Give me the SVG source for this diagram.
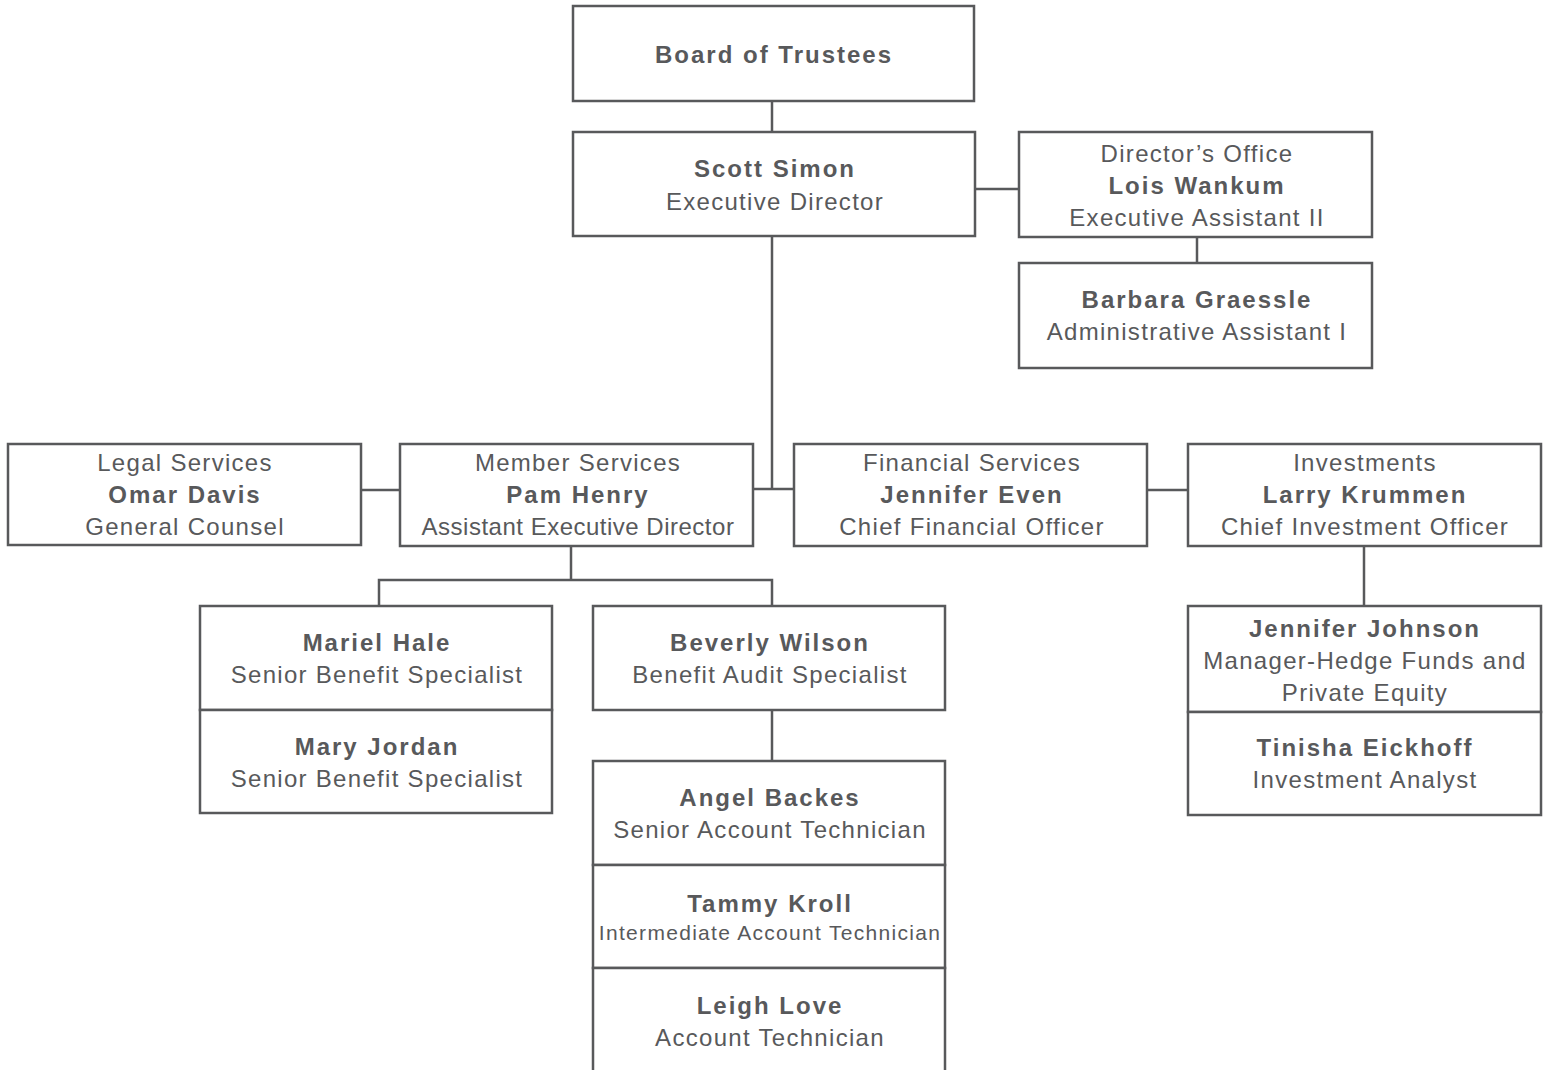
<svg xmlns="http://www.w3.org/2000/svg" width="1549" height="1070" viewBox="0 0 1549 1070">
<style>
.box{fill:#fff;stroke:#58595b;stroke-width:2.5}
.ln{fill:none;stroke:#58595b;stroke-width:2.5}
text{font-family:"Liberation Sans",Arial,sans-serif;font-size:24px;fill:#58595b;text-anchor:middle;letter-spacing:1.3px}
.b{font-weight:bold;letter-spacing:2px}
.s{font-size:21px;letter-spacing:1.3px}
.n{letter-spacing:0.5px}
</style>
<rect width="1549" height="1070" fill="#fff"/>
<g id="connectors">
<path class="ln" d="M772 101V132"/>
<path class="ln" d="M975 189H1019"/>
<path class="ln" d="M1197 237V263"/>
<path class="ln" d="M772 236V489"/>
<path class="ln" d="M753 489H794"/>
<path class="ln" d="M361 490H400"/>
<path class="ln" d="M1147 490H1188"/>
<path class="ln" d="M571 546V580"/>
<path class="ln" d="M379 606V580H772V606"/>
<path class="ln" d="M772 710V761"/>
<path class="ln" d="M1364 546V606"/>
</g>
<g id="board"><rect class="box" x="573" y="6" width="401" height="95"/><text class="b" x="774" y="63">Board of Trustees</text></g>
<g id="scott"><rect class="box" x="573" y="132" width="402" height="104"/><text class="b" x="775" y="177">Scott Simon</text><text x="775" y="210">Executive Director</text></g>
<g id="lois"><rect class="box" x="1019" y="132" width="353" height="105"/><text x="1197" y="162">Director’s Office</text><text class="b" x="1197" y="194">Lois Wankum</text><text x="1197" y="226">Executive Assistant II</text></g>
<g id="barbara"><rect class="box" x="1019" y="263" width="353" height="105"/><text class="b" x="1197" y="308">Barbara Graessle</text><text x="1197" y="340">Administrative Assistant I</text></g>
<g id="omar"><rect class="box" x="8" y="444" width="353" height="101"/><text x="185" y="471">Legal Services</text><text class="b" x="185" y="503">Omar Davis</text><text x="185" y="535">General Counsel</text></g>
<g id="pam"><rect class="box" x="400" y="444" width="353" height="102"/><text x="578" y="471">Member Services</text><text class="b" x="578" y="503">Pam Henry</text><text class="n" x="578" y="535">Assistant Executive Director</text></g>
<g id="jennifer-even"><rect class="box" x="794" y="444" width="353" height="102"/><text x="972" y="471">Financial Services</text><text class="b" x="972" y="503">Jennifer Even</text><text x="972" y="535">Chief Financial Officer</text></g>
<g id="larry"><rect class="box" x="1188" y="444" width="353" height="102"/><text x="1365" y="471">Investments</text><text class="b" x="1365" y="503">Larry Krummen</text><text x="1365" y="535">Chief Investment Officer</text></g>
<g id="mariel"><rect class="box" x="200" y="606" width="352" height="104"/><text class="b" x="377" y="651">Mariel Hale</text><text x="377" y="683">Senior Benefit Specialist</text></g>
<g id="mary"><rect class="box" x="200" y="710" width="352" height="103"/><text class="b" x="377" y="755">Mary Jordan</text><text x="377" y="787">Senior Benefit Specialist</text></g>
<g id="beverly"><rect class="box" x="593" y="606" width="352" height="104"/><text class="b" x="770" y="651">Beverly Wilson</text><text x="770" y="683">Benefit Audit Specialist</text></g>
<g id="angel"><rect class="box" x="593" y="761" width="352" height="104"/><text class="b" x="770" y="806">Angel Backes</text><text x="770" y="838">Senior Account Technician</text></g>
<g id="tammy"><rect class="box" x="593" y="865" width="352" height="103"/><text class="b" x="770" y="912">Tammy Kroll</text><text class="s" x="770" y="940">Intermediate Account Technician</text></g>
<g id="leigh"><rect class="box" x="593" y="968" width="352" height="110"/><text class="b" x="770" y="1014">Leigh Love</text><text x="770" y="1046">Account Technician</text></g>
<g id="jennifer-johnson"><rect class="box" x="1188" y="606" width="353" height="106"/><text class="b" x="1365" y="637">Jennifer Johnson</text><text x="1365" y="669">Manager-Hedge Funds and</text><text x="1365" y="701">Private Equity</text></g>
<g id="tinisha"><rect class="box" x="1188" y="712" width="353" height="103"/><text class="b" x="1365" y="756">Tinisha Eickhoff</text><text x="1365" y="788">Investment Analyst</text></g>
</svg>
